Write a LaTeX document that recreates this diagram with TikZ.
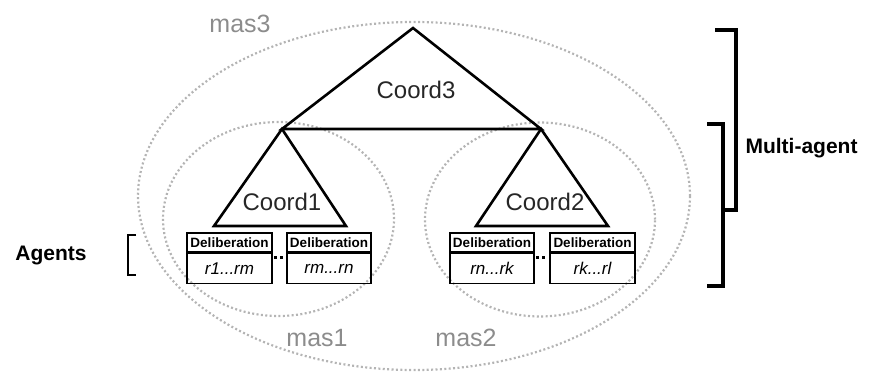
\documentclass[tikz,border=0pt]{standalone}
\usepackage{fontspec}
\setmainfont{Liberation Sans}
\usetikzlibrary{shapes.geometric}
\definecolor{dotgray}{RGB}{180,180,180}
\definecolor{labgray}{RGB}{140,140,140}
\tikzset{
  masline/.style={draw=dotgray, line width=2.2pt, dash pattern=on 2pt off 2.4pt, ellipse, inner sep=0pt},
  tri/.style={draw=black, line width=2.6pt, line join=miter},
  hdr/.style={draw=black, line width=1.6pt, minimum height=19pt, inner sep=0pt, font=\fontsize{13.5}{15}\selectfont\bfseries},
  bodybox/.style={draw=black, line width=1.6pt, minimum height=30pt, inner sep=0pt, font=\fontsize{17}{19}\selectfont\itshape},
  dotsq/.style={fill=black, minimum size=3pt, inner sep=0pt},
  coordlab/.style={font=\fontsize{24}{28}\selectfont, text=black!85},
  maslab/.style={font=\fontsize{25}{28}\selectfont, text=labgray},
  bigbold/.style={font=\fontsize{21}{24}\selectfont\bfseries},
  brk/.style={draw=black, line width=4pt},
}
\begin{document}
\begin{tikzpicture}[x=1pt,y=-1pt]
\useasboundingbox (0,0) rectangle (872,373);
% ellipses
\node[masline, minimum width=552pt, minimum height=348pt] (m3) at (414,196) {};
\node[masline, minimum width=231pt, minimum height=194pt] (m1) at (278.5,219) {};
\node[masline, minimum width=230pt, minimum height=194pt] (m2) at (540,219.5) {};
\node[maslab] (l3) at (240,24) {mas3};
\node[maslab] (l1) at (317,338) {mas1};
\node[maslab] (l2) at (466,338) {mas2};
% triangles
\coordinate (t3) at (413,28);
\coordinate (t1) at (282,129);
\coordinate (t2) at (541,129);
\coordinate (b1l) at (214,226);
\coordinate (b1r) at (346,226);
\coordinate (b2l) at (476,226);
\coordinate (b2r) at (608,226);
\draw[tri] (t3) -- (t1) -- (t2) -- cycle;
\draw[tri] (t1) -- (b1l) -- (b1r) -- cycle;
\draw[tri] (t2) -- (b2l) -- (b2r) -- cycle;
\node[coordlab] (c3) at (416,90) {Coord3};
\node[coordlab] (c1) at (282,202) {Coord1};
\node[coordlab] (c2) at (545,202) {Coord2};
% agent boxes
\node[hdr, minimum width=85pt] (h1) at (229.5,242.5) {Deliberation};
\node[bodybox, minimum width=85pt, anchor=north] (r1) at (h1.south) {r1...rm};
\node[hdr, minimum width=84pt] (h2) at (329,242.5) {Deliberation};
\node[bodybox, minimum width=84pt, anchor=north] (r2) at (h2.south) {rm...rn};
\node[hdr, minimum width=84pt] (h3) at (492,242.5) {Deliberation};
\node[bodybox, minimum width=84pt, anchor=north] (r3) at (h3.south) {rn...rk};
\node[hdr, minimum width=85pt] (h4) at (592.5,242.5) {Deliberation};
\node[bodybox, minimum width=85pt, anchor=north] (r4) at (h4.south) {rk...rl};
\node[dotsq] (d1) at (275,257.5) {};
\node[dotsq] (d2) at (281,257.5) {};
\node[dotsq] (d3) at (537,257.5) {};
\node[dotsq] (d4) at (543,257.5) {};
% brackets
\coordinate (u1) at (715,30);
\coordinate (u2) at (736,30);
\coordinate (u3) at (736,210);
\coordinate (u4) at (723,210);
\draw[brk] (u1) -- (u2) -- (u3) -- (u4);
\coordinate (w1) at (707,124);
\coordinate (w2) at (723,124);
\coordinate (w3) at (723,286);
\coordinate (w4) at (707,286);
\draw[brk] (w1) -- (w2) -- (w3) -- (w4);
\node[bigbold, anchor=west] (ma) at (742,148) {Multi-agent};
\coordinate (a1) at (136,235);
\coordinate (a2) at (128,235);
\coordinate (a3) at (128,275);
\coordinate (a4) at (136,275);
\draw[draw=black, line width=1.3pt] (a1) -- (a2) -- (a3) -- (a4);
\node[bigbold] (ag) at (51,255) {Agents};
\end{tikzpicture}
\end{document}
